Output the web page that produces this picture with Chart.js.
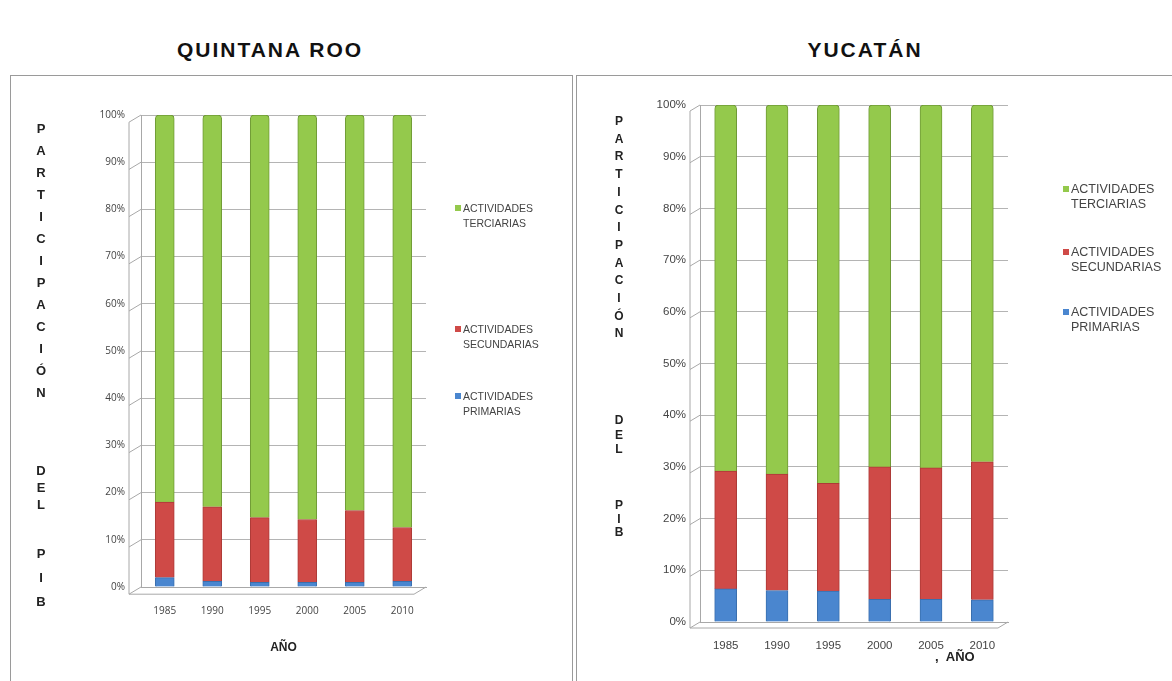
<!DOCTYPE html>
<html>
<head>
<meta charset="utf-8">
<script src="https://cdn.jsdelivr.net/npm/chart.js@4/dist/chart.umd.min.js"></script>
<style>
  body { margin: 0; background: #fff; font-family: "Liberation Sans", Arial, sans-serif; }
  #page { position: relative; width: 1172px; height: 681px; overflow: hidden; }
  .title { position: absolute; top: 38px; font-weight: bold; font-size: 21px; letter-spacing: 2px; color: #111; text-align: center; }
  .box { position: absolute; top: 75px; height: 640px; border: 1px solid #9a9a9a; }
  .box canvas { position: absolute; }
  .ytitle { position: absolute; font-weight: bold; color: #222; text-align: center; width: 20px; }
  .legend { position: absolute; color: #444; }
  .legend .item { position: absolute; white-space: nowrap; }
  .legend .sw { display: inline-block; width: 6px; height: 6px; margin-right: 2px; vertical-align: 1px; }
  .legend .l2 { padding-left: 8px; }
  .xtitle { position: absolute; font-weight: bold; font-size: 13px; color: #222; }
</style>
</head>
<body>
<div id="page">
  <div class="title" style="left:120px;width:300px;">QUINTANA ROO</div>
  <div class="title" style="left:715px;width:300px;">YUCATÁN</div>

  <div class="box" style="left:10px;width:561px;">
    <canvas id="qrChart"></canvas>
    <div class="ytitle" style="left:20px;top:42px;font-size:13px;line-height:22px;">P<br>A<br>R<br>T<br>I<br>C<br>I<br>P<br>A<br>C<br>I<br>Ó<br>N</div>
    <div class="ytitle" style="left:20px;top:386px;font-size:13px;line-height:17px;">D<br>E<br>L</div>
    <div class="ytitle" style="left:20px;top:466px;font-size:13px;line-height:24px;">P<br>I<br>B</div>
    <div class="legend" style="left:444px;top:125px;font-size:10.5px;line-height:15px;">
      <div class="item" style="top:0px;"><span class="sw" style="background:#94c94c"></span>ACTIVIDADES<br><span class="l2">TERCIARIAS</span></div>
      <div class="item" style="top:121px;"><span class="sw" style="background:#cf4a47"></span>ACTIVIDADES<br><span class="l2">SECUNDARIAS</span></div>
      <div class="item" style="top:188px;"><span class="sw" style="background:#4a86cf"></span>ACTIVIDADES<br><span class="l2">PRIMARIAS</span></div>
    </div>
  </div>

  <div class="box" style="left:576px;width:600px;">
    <canvas id="yucChart"></canvas>
    <div class="ytitle" style="left:32px;top:37px;font-size:12px;line-height:17.7px;">P<br>A<br>R<br>T<br>I<br>C<br>I<br>P<br>A<br>C<br>I<br>Ó<br>N</div>
    <div class="ytitle" style="left:32px;top:337px;font-size:12px;line-height:14.5px;">D<br>E<br>L</div>
    <div class="ytitle" style="left:32px;top:423px;font-size:12px;line-height:13.5px;">P<br>I<br>B</div>
    <div class="legend" style="left:486px;top:106px;font-size:12.5px;line-height:15px;">
      <div class="item" style="top:0px;"><span class="sw" style="background:#94c94c"></span>ACTIVIDADES<br><span class="l2">TERCIARIAS</span></div>
      <div class="item" style="top:63px;"><span class="sw" style="background:#cf4a47"></span>ACTIVIDADES<br><span class="l2">SECUNDARIAS</span></div>
      <div class="item" style="top:123px;"><span class="sw" style="background:#4a86cf"></span>ACTIVIDADES<br><span class="l2">PRIMARIAS</span></div>
    </div>
    <div class="xtitle" style="left:358px;top:573px;">,&nbsp;&nbsp;AÑO</div>
  </div>
</div>

<script>
// categories
const years = ["1985", "1990", "1995", "2000", "2005", "2010"];

// Quintana Roo (% of GDP)
const qrPrimarias = [2.0, 1.2, 1.0, 1.0, 1.0, 1.2];
const qrSecundarias = [16.0, 15.8, 13.7, 13.3, 15.2, 11.4];
const qrTerciarias = [82.0, 83.0, 85.3, 85.7, 83.8, 87.4];

// Yucatan (% of GDP)
const yucPrimarias = [6.4, 6.1, 6.0, 4.4, 4.4, 4.3];
const yucSecundarias = [22.8, 22.5, 20.8, 25.6, 25.4, 26.7];
const yucTerciarias = [70.8, 71.4, 73.2, 70.0, 70.2, 69.0];

// y axis ticks
const pctTicks = [0, 10, 20, 30, 40, 50, 60, 70, 80, 90, 100];

const GREEN = "#94c94c";
const RED = "#cf4a47";
const BLUE = "#4a86cf";

// fake 3d frame: front axis, floor and diagonal tick connectors
const depthFrame = {
  id: "depthFrame",
  beforeDatasetsDraw(chart, args, opts) {
    const { ctx, chartArea } = chart;
    const y = chart.scales.y;
    const d = opts.depth || 10;
    const fx = chartArea.left - d;
    ctx.save();
    ctx.strokeStyle = "#a8a8a8";
    ctx.lineWidth = 1;
    ctx.beginPath();
    y.ticks.forEach((t) => {
      const py = y.getPixelForValue(t.value);
      ctx.moveTo(fx, py + d * 0.6);
      ctx.lineTo(chartArea.left, py);
    });
    // front vertical axis
    ctx.moveTo(fx, chartArea.top + d * 0.6);
    ctx.lineTo(fx, chartArea.bottom + d * 0.6);
    // front floor edge
    ctx.lineTo(chartArea.right - d, chartArea.bottom + d * 0.6);
    ctx.lineTo(chartArea.right, chartArea.bottom);
    ctx.stroke();
    ctx.restore();
  },
};

function makeDatasets(prim, sec, ter) {
  return [
    {
      label: "ACTIVIDADES PRIMARIAS",
      data: prim,
      backgroundColor: BLUE,
      borderColor: "#3a6fae",
      borderWidth: 1,
    },
    {
      label: "ACTIVIDADES SECUNDARIAS",
      data: sec,
      backgroundColor: RED,
      borderColor: "#ad3a37",
      borderWidth: 1,
    },
    {
      label: "ACTIVIDADES TERCIARIAS",
      data: ter,
      backgroundColor: GREEN,
      borderColor: "#6f9a36",
      borderWidth: 1,
      borderRadius: { topLeft: 4, topRight: 4 },
      borderSkipped: "bottom",
    },
  ];
}

function renderChart(id, cfg) {
  const canvas = document.getElementById(id);
  canvas.style.left = cfg.left + "px";
  canvas.style.top = cfg.top + "px";
  canvas.width = cfg.width;
  canvas.height = cfg.height;
  canvas.style.width = cfg.width + "px";
  canvas.style.height = cfg.height + "px";

  new Chart(canvas, {
    type: "bar",
    data: {
      labels: years,
      datasets: makeDatasets(cfg.prim, cfg.sec, cfg.ter),
    },
    plugins: [depthFrame],
    options: {
      responsive: false,
      animation: false,
      layout: {
        padding: { left: 0, right: cfg.padRight, top: cfg.padTop, bottom: 0 },
      },
      plugins: {
        legend: { display: false },
        tooltip: { enabled: false },
        depthFrame: { depth: cfg.depth },
      },
      datasets: {
        bar: { barThickness: cfg.barWidth },
      },
      scales: {
        x: {
          stacked: true,
          afterFit: (scale) => {
            scale.height = cfg.xHeight;
          },
          grid: { display: false, drawTicks: false },
          border: { color: "#a8a8a8" },
          ticks: {
            padding: cfg.xPad,
            color: "#444",
            font: { family: cfg.tickFont, size: cfg.tickSize },
          },
          title: cfg.xTitle
            ? {
                display: true,
                text: cfg.xTitle,
                color: "#222",
                font: { family: "Liberation Sans", size: 12, weight: "bold" },
                padding: { top: 0, bottom: cfg.xTitlePad },
              }
            : { display: false },
        },
        y: {
          stacked: true,
          min: 0,
          max: 100,
          afterFit: (scale) => {
            scale.width = cfg.yWidth;
          },
          afterBuildTicks: (scale) => {
            scale.ticks = pctTicks.map((v) => ({ value: v }));
          },
          grid: { color: "#b4b4b4", drawTicks: false },
          border: { color: "#a8a8a8" },
          ticks: {
            padding: cfg.yPad,
            color: "#444",
            font: { family: cfg.tickFont, size: cfg.tickSize },
            callback: (v) => v + "%",
          },
        },
      },
    },
  });
}

renderChart("qrChart", {
  left: 0, top: 0, width: 561, height: 600,
  prim: qrPrimarias, sec: qrSecundarias, ter: qrTerciarias,
  padRight: 146, padTop: 39, yWidth: 130, xHeight: 89,
  barWidth: 19, xPad: 18, yPad: 16, depth: 12,
  tickFont: "Open Sans", tickSize: 10,
  xTitle: "AÑO", xTitlePad: 21,
});

renderChart("yucChart", {
  left: 0, top: 0, width: 596, height: 600,
  prim: yucPrimarias, sec: yucSecundarias, ter: yucTerciarias,
  padRight: 165, padTop: 29, yWidth: 123, xHeight: 54,
  barWidth: 22, xPad: 17, yPad: 14, depth: 10,
  tickFont: "Liberation Sans", tickSize: 11.5,
  xTitle: null,
});
</script>
</body>
</html>
